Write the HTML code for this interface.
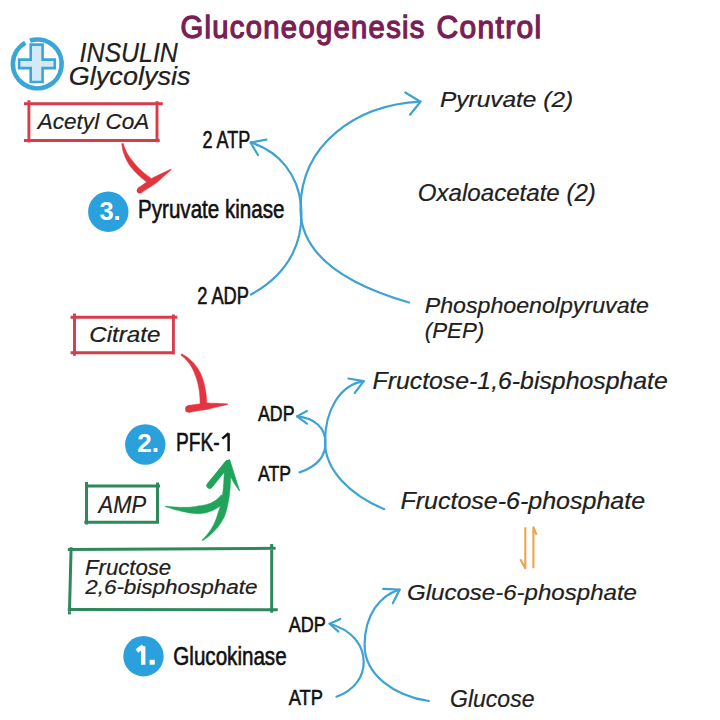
<!DOCTYPE html>
<html><head><meta charset="utf-8"><style>
html,body{margin:0;padding:0;background:#fff;}
svg{display:block;font-family:"Liberation Sans",sans-serif;}
</style></head><body>
<svg width="720" height="720" viewBox="0 0 720 720">
<rect width="720" height="720" fill="#fff"/>
<path d="M25.28 42.66 A24.4 24.4 0 1 0 29.96 40.63" fill="none" stroke="#3aa6d8" stroke-width="4.6"/>
<path d="M30.7 44.6 H42.6 V59.6 H54.8 V68.1 H42.6 V82 H30.7 V68.1 H19.1 V59.6 H30.7 Z" fill="#d3eaf6" stroke="#3aa6d8" stroke-width="2.6" stroke-linejoin="miter"/>
<path d="M24 103.7 L162.8 103.7 M28.9 100.2 L28.9 142.6 M24 140.5 L159.7 140.5 M157 101.25 L157 142.2" fill="none" stroke="#d63c4a" stroke-width="2.9" stroke-linecap="butt"/>
<path d="M70.6 317.3 L177.3 317.3 M74.5 313.4 L74.5 355.8 M70.6 352.7 L174.2 352.7 M173.4 314.6 L173.4 354.6" fill="none" stroke="#d63c4a" stroke-width="2.9" stroke-linecap="butt"/>
<path d="M86.9 486 L160 486 M86.5 481.9 L86.5 524.4 M84.4 522.25 L158 522.25 M157.5 482.5 L157.5 523.75" fill="none" stroke="#2d895c" stroke-width="3.0" stroke-linecap="butt"/>
<path d="M67.8 549.4 L275.6 548.3 M71.1 547.2 L69.4 614.4 M67.8 609.4 L277.8 609.8 M271.7 543.9 L271.7 612.8" fill="none" stroke="#2d895c" stroke-width="3.0" stroke-linecap="butt"/>
<circle cx="108.3" cy="211.7" r="20.2" fill="#2aa0dd"/>
<circle cx="145.3" cy="444.5" r="20.2" fill="#2aa0dd"/>
<circle cx="143.5" cy="656.2" r="20.2" fill="#2aa0dd"/>
<path d="M251 294.5 C 292 272, 304 238, 301 205 C 298 175, 280 152, 251 142.5" fill="none" stroke="#3ea2d3" stroke-width="2.2" stroke-linecap="round"/>
<polyline points="266.4,139.7 250.5,142.5 258,155" fill="none" stroke="#3ea2d3" stroke-width="2.2" stroke-linecap="round" stroke-linejoin="round"/>
<path d="M409 302.5 C 345 284, 300 255, 300.5 208 C 301 145, 355 105, 420.5 101.7" fill="none" stroke="#3ea2d3" stroke-width="2.2" stroke-linecap="round"/>
<polyline points="405.3,92.5 420.5,101.7 410,114.7" fill="none" stroke="#3ea2d3" stroke-width="2.2" stroke-linecap="round" stroke-linejoin="round"/>
<path d="M299.6 472.4 C 318 466, 326 456, 325.5 442 C 325 428, 315 418, 297 416.4" fill="none" stroke="#3ea2d3" stroke-width="2.2" stroke-linecap="round"/>
<polyline points="306.9,411 297,416.4 306.9,423.7" fill="none" stroke="#3ea2d3" stroke-width="2.2" stroke-linecap="round" stroke-linejoin="round"/>
<path d="M384.2 509.2 C 350 495, 325 470, 325 442 C 325 410, 340 385, 363.7 381.2" fill="none" stroke="#3ea2d3" stroke-width="2.2" stroke-linecap="round"/>
<polyline points="348.4,378.5 363.7,381.2 354.7,393" fill="none" stroke="#3ea2d3" stroke-width="2.2" stroke-linecap="round" stroke-linejoin="round"/>
<path d="M336.4 696.7 C 355 690, 364 676, 363.7 661.7 C 363.5 645, 352 630, 329.6 623.8" fill="none" stroke="#3ea2d3" stroke-width="2.2" stroke-linecap="round"/>
<polyline points="340.3,618.9 329.6,623.8 338.4,631.6" fill="none" stroke="#3ea2d3" stroke-width="2.2" stroke-linecap="round" stroke-linejoin="round"/>
<path d="M428.9 701 C 395 696, 364 675, 364.6 644.2 C 365 615, 380 595, 399.6 589.7" fill="none" stroke="#3ea2d3" stroke-width="2.2" stroke-linecap="round"/>
<polyline points="383.1,588.8 399.6,589.7 392.8,603.3" fill="none" stroke="#3ea2d3" stroke-width="2.2" stroke-linecap="round" stroke-linejoin="round"/>
<path d="M121.76 143.63 L121.87 144.68 L122.00 145.74 L122.16 146.80 L122.34 147.86 L122.56 148.91 L122.80 149.97 L123.07 151.03 L123.37 152.08 L123.69 153.13 L124.04 154.19 L124.42 155.24 L124.83 156.29 L125.27 157.33 L125.73 158.38 L126.23 159.42 L126.75 160.46 L127.30 161.50 L127.87 162.54 L128.48 163.57 L129.11 164.60 L129.83 165.59 L130.57 166.57 L131.34 167.54 L132.14 168.51 L132.96 169.47 L133.81 170.43 L134.68 171.38 L135.58 172.33 L136.51 173.27 L137.46 174.21 L138.44 175.14 L139.44 176.06 L140.47 176.98 L141.52 177.90 L142.60 178.81 L143.71 179.71 L144.84 180.61 L145.99 181.51 L147.17 182.40 L148.38 183.28 L151.62 178.72 L150.45 177.90 L149.31 177.07 L148.19 176.25 L147.10 175.42 L146.04 174.58 L145.00 173.74 L143.99 172.90 L143.00 172.06 L142.04 171.21 L141.10 170.36 L140.19 169.50 L139.31 168.64 L138.45 167.78 L137.61 166.91 L136.81 166.05 L136.02 165.17 L135.26 164.30 L134.53 163.42 L133.82 162.53 L133.14 161.65 L132.42 160.80 L131.73 159.94 L131.06 159.08 L130.41 158.22 L129.79 157.34 L129.19 156.46 L128.61 155.58 L128.06 154.68 L127.53 153.78 L127.02 152.88 L126.53 151.96 L126.07 151.04 L125.64 150.11 L125.22 149.17 L124.83 148.23 L124.47 147.27 L124.12 146.31 L123.80 145.34 L123.51 144.36 L123.24 143.37Z" fill="#e2353f" stroke="#e2353f" stroke-width="0.5" stroke-linejoin="round"/>
<path d="M141.13 192.90 L141.91 192.38 L142.69 191.87 L143.47 191.35 L144.25 190.84 L145.03 190.32 L145.82 189.80 L146.60 189.29 L147.38 188.77 L148.17 188.26 L148.95 187.74 L149.74 187.22 L150.53 186.71 L151.32 186.19 L152.10 185.68 L152.89 185.16 L153.68 184.64 L154.47 184.13 L155.26 183.61 L156.05 183.10 L156.84 182.58 L157.56 181.94 L158.27 181.31 L158.98 180.67 L159.70 180.03 L160.41 179.40 L161.13 178.76 L161.84 178.12 L162.56 177.48 L163.28 176.85 L164.00 176.21 L164.72 175.57 L165.44 174.94 L166.16 174.30 L166.88 173.66 L167.60 173.02 L168.32 172.39 L169.05 171.75 L169.77 171.11 L170.49 170.47 L171.22 169.83 L170.78 169.17 L169.91 169.58 L169.03 169.99 L168.16 170.40 L167.29 170.81 L166.42 171.23 L165.55 171.64 L164.67 172.05 L163.80 172.46 L162.93 172.88 L162.07 173.29 L161.20 173.70 L160.33 174.12 L159.46 174.53 L158.60 174.94 L157.73 175.35 L156.86 175.77 L156.00 176.18 L155.13 176.59 L154.27 177.01 L153.41 177.42 L152.62 177.95 L151.84 178.49 L151.06 179.02 L150.28 179.56 L149.50 180.09 L148.72 180.62 L147.94 181.16 L147.16 181.69 L146.38 182.23 L145.61 182.76 L144.83 183.29 L144.06 183.83 L143.28 184.36 L142.51 184.90 L141.73 185.43 L140.96 185.96 L140.19 186.50 L139.42 187.03 L138.64 187.57 L137.87 188.10Z" fill="#e2353f" stroke="#e2353f" stroke-width="0.5" stroke-linejoin="round"/>
<circle cx="139.6" cy="190.6" r="2.8" fill="#e2353f"/>
<path d="M180.90 355.13 L181.90 355.90 L182.86 356.69 L183.80 357.50 L184.70 358.34 L185.57 359.20 L186.41 360.08 L187.22 360.99 L188.00 361.93 L188.75 362.88 L189.47 363.87 L190.16 364.87 L190.83 365.90 L191.46 366.95 L192.07 368.03 L192.65 369.13 L193.20 370.25 L193.72 371.40 L194.22 372.58 L194.69 373.78 L195.14 375.00 L195.62 376.22 L196.08 377.47 L196.52 378.75 L196.93 380.06 L197.32 381.40 L197.68 382.77 L198.02 384.17 L198.33 385.59 L198.62 387.05 L198.88 388.54 L199.11 390.05 L199.33 391.60 L199.51 393.17 L199.67 394.78 L199.81 396.42 L199.92 398.08 L200.00 399.78 L200.06 401.50 L200.09 403.26 L200.10 405.06 L206.90 404.94 L206.83 403.07 L206.73 401.21 L206.61 399.39 L206.46 397.59 L206.28 395.82 L206.07 394.08 L205.84 392.36 L205.58 390.68 L205.29 389.03 L204.97 387.40 L204.63 385.80 L204.26 384.24 L203.85 382.70 L203.43 381.19 L202.97 379.71 L202.48 378.26 L201.97 376.83 L201.43 375.44 L200.86 374.08 L200.26 372.75 L199.57 371.48 L198.85 370.24 L198.11 369.03 L197.34 367.87 L196.54 366.73 L195.72 365.63 L194.87 364.56 L194.00 363.53 L193.10 362.53 L192.18 361.57 L191.23 360.65 L190.26 359.75 L189.27 358.90 L188.26 358.07 L187.22 357.29 L186.16 356.53 L185.08 355.81 L183.97 355.13 L182.84 354.48 L181.70 353.87Z" fill="#e2353f" stroke="#e2353f" stroke-width="0.5" stroke-linejoin="round"/>
<path d="M189.09 412.45 L190.01 412.27 L190.93 412.10 L191.85 411.93 L192.77 411.76 L193.70 411.59 L194.62 411.43 L195.55 411.27 L196.49 411.11 L197.42 410.95 L198.36 410.79 L199.30 410.63 L200.24 410.48 L201.19 410.33 L202.14 410.18 L203.09 410.03 L204.04 409.89 L205.00 409.74 L205.96 409.60 L206.92 409.46 L207.88 409.33 L208.84 409.07 L209.79 408.82 L210.75 408.57 L211.71 408.32 L212.68 408.07 L213.65 407.83 L214.62 407.58 L215.59 407.34 L216.57 407.10 L217.55 406.87 L218.54 406.63 L219.52 406.40 L220.51 406.17 L221.51 405.94 L222.50 405.71 L223.50 405.48 L224.50 405.26 L225.51 405.04 L226.52 404.82 L227.53 404.60 L227.47 403.80 L226.43 403.75 L225.40 403.69 L224.37 403.64 L223.34 403.59 L222.31 403.54 L221.28 403.50 L220.26 403.45 L219.24 403.41 L218.22 403.37 L217.20 403.33 L216.18 403.30 L215.17 403.27 L214.15 403.23 L213.14 403.20 L212.13 403.18 L211.13 403.15 L210.12 403.13 L209.12 403.11 L208.12 403.09 L207.12 403.07 L206.13 403.18 L205.15 403.28 L204.17 403.39 L203.20 403.50 L202.22 403.62 L201.25 403.73 L200.28 403.85 L199.32 403.97 L198.35 404.09 L197.39 404.21 L196.43 404.34 L195.47 404.46 L194.52 404.59 L193.57 404.72 L192.62 404.86 L191.67 404.99 L190.72 405.13 L189.78 405.27 L188.84 405.41 L187.91 405.55Z" fill="#e2353f" stroke="#e2353f" stroke-width="0.5" stroke-linejoin="round"/>
<circle cx="188.6" cy="409.0" r="3.5" fill="#e2353f"/>
<path d="M202.55 540.71 L203.90 539.82 L205.22 538.90 L206.51 537.97 L207.78 537.00 L209.03 536.01 L210.25 534.99 L211.44 533.94 L212.61 532.85 L213.76 531.72 L214.87 530.55 L215.97 529.34 L217.03 528.08 L218.07 526.78 L219.08 525.43 L220.07 524.03 L221.02 522.57 L221.94 521.06 L222.84 519.50 L223.70 517.88 L224.53 516.19 L225.17 514.40 L225.77 512.55 L226.33 510.64 L226.86 508.68 L227.36 506.66 L227.82 504.58 L228.25 502.44 L228.64 500.23 L229.00 497.96 L229.33 495.62 L229.62 493.21 L229.88 490.72 L230.11 488.16 L230.31 485.53 L230.47 482.82 L230.60 480.02 L230.70 477.15 L230.77 474.19 L230.80 471.14 L230.80 468.01 L224.20 467.99 L224.17 471.07 L224.11 474.04 L224.01 476.93 L223.89 479.72 L223.73 482.42 L223.55 485.04 L223.33 487.57 L223.08 490.02 L222.80 492.39 L222.49 494.68 L222.15 496.89 L221.79 499.03 L221.39 501.09 L220.96 503.08 L220.50 505.01 L220.02 506.86 L219.50 508.65 L218.96 510.38 L218.39 512.05 L217.79 513.66 L217.33 515.27 L216.84 516.85 L216.31 518.38 L215.75 519.87 L215.16 521.33 L214.53 522.75 L213.88 524.14 L213.18 525.50 L212.45 526.83 L211.69 528.13 L210.89 529.41 L210.06 530.67 L209.18 531.90 L208.28 533.12 L207.33 534.32 L206.35 535.50 L205.33 536.66 L204.27 537.82 L203.18 538.96 L202.05 540.09Z" fill="#20a35a" stroke="#20a35a" stroke-width="0.5" stroke-linejoin="round"/>
<path d="M165.33 506.59 L167.13 507.19 L168.93 507.77 L170.72 508.34 L172.50 508.88 L174.27 509.40 L176.03 509.90 L177.79 510.37 L179.54 510.82 L181.28 511.24 L183.01 511.64 L184.73 512.00 L186.44 512.34 L188.14 512.65 L189.84 512.92 L191.52 513.16 L193.20 513.36 L194.87 513.52 L196.53 513.64 L198.19 513.73 L199.83 513.77 L201.45 513.55 L203.04 513.29 L204.61 512.98 L206.16 512.63 L207.68 512.22 L209.18 511.76 L210.66 511.24 L212.11 510.67 L213.53 510.04 L214.92 509.36 L216.28 508.61 L217.60 507.81 L218.89 506.94 L220.15 506.01 L221.36 505.02 L222.54 503.96 L223.67 502.84 L224.76 501.66 L225.80 500.41 L226.78 499.13 L221.22 494.87 L220.36 495.93 L219.49 496.89 L218.60 497.80 L217.68 498.64 L216.73 499.44 L215.75 500.18 L214.75 500.87 L213.72 501.51 L212.65 502.10 L211.56 502.65 L210.44 503.15 L209.29 503.61 L208.11 504.03 L206.90 504.40 L205.66 504.74 L204.39 505.03 L203.09 505.28 L201.76 505.50 L200.40 505.67 L199.02 505.81 L197.62 506.12 L196.18 506.39 L194.70 506.63 L193.19 506.84 L191.65 507.01 L190.08 507.14 L188.47 507.25 L186.84 507.32 L185.18 507.36 L183.49 507.37 L181.78 507.34 L180.04 507.30 L178.28 507.22 L176.51 507.12 L174.71 506.99 L172.89 506.84 L171.06 506.66 L169.21 506.46 L167.35 506.25 L165.47 506.01Z" fill="#20a35a" stroke="#20a35a" stroke-width="0.5" stroke-linejoin="round"/>
<path d="M209.7 485.5 L 227.5 463.5" stroke="#20a35a" stroke-width="6.5" stroke-linecap="round"/>
<path d="M225.5 462 L 229.5 459.5 C 233 470, 236 480, 239.6 491 C 235 485, 231 478, 227.5 470 Z" fill="#20a35a" stroke="#20a35a" stroke-width="0.8" stroke-linejoin="round"/>
<path d="M525.3 527.2 V568.2 L520.3 559.2 M533.4 568.2 V527.2 L536.6 534.9" fill="none" stroke="#eda54c" stroke-width="2.1" stroke-linecap="butt" stroke-linejoin="round"/>
<path d="M143.2 646.3 V664.7 M136.9 651 L143.2 646.3" fill="none" stroke="#fff" stroke-width="4.4" stroke-linecap="butt" stroke-linejoin="miter"/>
<rect x="149.6" y="659.8" width="5.2" height="4.9" fill="#fff"/>
<path d="M228.6 433.3 V451.2 M222.3 438.6 L228.6 433.3" fill="none" stroke="#111" stroke-width="2.5" stroke-linecap="butt"/>
<text transform="translate(180.50,37.80) scale(0.9467,1)" font-size="30.81" font-style="normal" font-weight="normal" fill="#7a1f56" stroke="#7a1f56" stroke-width="1.3" letter-spacing="1.4">Gluconeogenesis</text>
<text transform="translate(436.50,37.80) scale(0.9717,1)" font-size="30.81" font-style="normal" font-weight="normal" fill="#7a1f56" stroke="#7a1f56" stroke-width="1.3" letter-spacing="1.4">Control</text>
<text transform="translate(79.50,62.20) scale(0.9274,1)" font-size="26.89" font-style="italic" font-weight="normal" fill="#202020" stroke="#202020" stroke-width="0.2">INSULIN</text>
<text transform="translate(68.80,84.60) scale(1.0578,1)" font-size="25.58" font-style="italic" font-weight="normal" fill="#202020" stroke="#202020" stroke-width="0.2">Glycolysis</text>
<text transform="translate(37.83,129.40) scale(0.9899,1)" font-size="22.75" font-style="italic" font-weight="normal" fill="#202020" stroke="#202020" stroke-width="0.2">Acetyl CoA</text>
<text transform="translate(138.00,218.00) scale(0.8009,1)" font-size="25.73" font-style="normal" font-weight="normal" fill="#111" stroke="#111" stroke-width="0.6">Pyruvate kinase</text>
<text transform="translate(202.50,147.60) scale(0.7463,1)" font-size="24.13" font-style="normal" font-weight="normal" fill="#111" stroke="#111" stroke-width="0.6">2 ATP</text>
<text transform="translate(197.20,304.40) scale(0.7573,1)" font-size="24.13" font-style="normal" font-weight="normal" fill="#111" stroke="#111" stroke-width="0.6">2 ADP</text>
<text transform="translate(440.00,106.70) scale(1.0718,1)" font-size="22.82" font-style="italic" font-weight="normal" fill="#202020" stroke="#202020" stroke-width="0.2">Pyruvate (2)</text>
<text transform="translate(417.80,200.50) scale(0.9984,1)" font-size="24.13" font-style="italic" font-weight="normal" fill="#202020" stroke="#202020" stroke-width="0.2">Oxaloacetate (2)</text>
<text transform="translate(424.70,312.80) scale(1.0426,1)" font-size="22.24" font-style="italic" font-weight="normal" fill="#202020" stroke="#202020" stroke-width="0.2">Phosphoenolpyruvate</text>
<text transform="translate(424.70,337.80) scale(1.0032,1)" font-size="22.24" font-style="italic" font-weight="normal" fill="#202020" stroke="#202020" stroke-width="0.2">(PEP)</text>
<text transform="translate(89.20,342.00) scale(1.1393,1)" font-size="21.22" font-style="italic" font-weight="normal" fill="#202020" stroke="#202020" stroke-width="0.2">Citrate</text>
<text transform="translate(176.10,451.20) scale(0.7356,1)" font-size="26.02" font-style="normal" font-weight="normal" fill="#111" stroke="#111" stroke-width="0.6">PFK-</text>
<text transform="translate(258.00,421.00) scale(0.7931,1)" font-size="22.38" font-style="normal" font-weight="normal" fill="#111" stroke="#111" stroke-width="0.6">ADP</text>
<text transform="translate(258.00,480.50) scale(0.7907,1)" font-size="22.24" font-style="normal" font-weight="normal" fill="#111" stroke="#111" stroke-width="0.6">ATP</text>
<text transform="translate(98.60,512.50) scale(0.9159,1)" font-size="23.98" font-style="italic" font-weight="normal" fill="#202020" stroke="#202020" stroke-width="0.2">AMP</text>
<text transform="translate(85.00,575.00) scale(1.0030,1)" font-size="22.09" font-style="italic" font-weight="normal" fill="#202020" stroke="#202020" stroke-width="0.2">Fructose</text>
<text transform="translate(85.13,594.30) scale(1.0822,1)" font-size="20.78" font-style="italic" font-weight="normal" fill="#202020" stroke="#202020" stroke-width="0.2">2,6-bisphosphate</text>
<text transform="translate(173.30,664.60) scale(0.8243,1)" font-size="25.00" font-style="normal" font-weight="normal" fill="#111" stroke="#111" stroke-width="0.6">Glucokinase</text>
<text transform="translate(288.75,631.60) scale(0.7969,1)" font-size="22.67" font-style="normal" font-weight="normal" fill="#111" stroke="#111" stroke-width="0.6">ADP</text>
<text transform="translate(288.75,704.50) scale(0.8125,1)" font-size="22.53" font-style="normal" font-weight="normal" fill="#111" stroke="#111" stroke-width="0.6">ATP</text>
<text transform="translate(372.50,389.20) scale(1.0230,1)" font-size="24.27" font-style="italic" font-weight="normal" fill="#202020" stroke="#202020" stroke-width="0.2">Fructose-1,6-bisphosphate</text>
<text transform="translate(400.40,508.90) scale(1.0562,1)" font-size="23.69" font-style="italic" font-weight="normal" fill="#202020" stroke="#202020" stroke-width="0.2">Fructose-6-phosphate</text>
<text transform="translate(407.00,599.50) scale(1.0617,1)" font-size="22.67" font-style="italic" font-weight="normal" fill="#202020" stroke="#202020" stroke-width="0.2">Glucose-6-phosphate</text>
<text transform="translate(450.00,706.70) scale(0.9491,1)" font-size="24.27" font-style="italic" font-weight="normal" fill="#202020" stroke="#202020" stroke-width="0.2">Glucose</text>
<text transform="translate(99.40,220.00) scale(0.9825,1)" font-size="25.87" font-style="normal" font-weight="bold" fill="#fff">3.</text>
<text transform="translate(137.20,451.80) scale(1.0229,1)" font-size="25.44" font-style="normal" font-weight="bold" fill="#fff">2.</text>
</svg>
</body></html>
